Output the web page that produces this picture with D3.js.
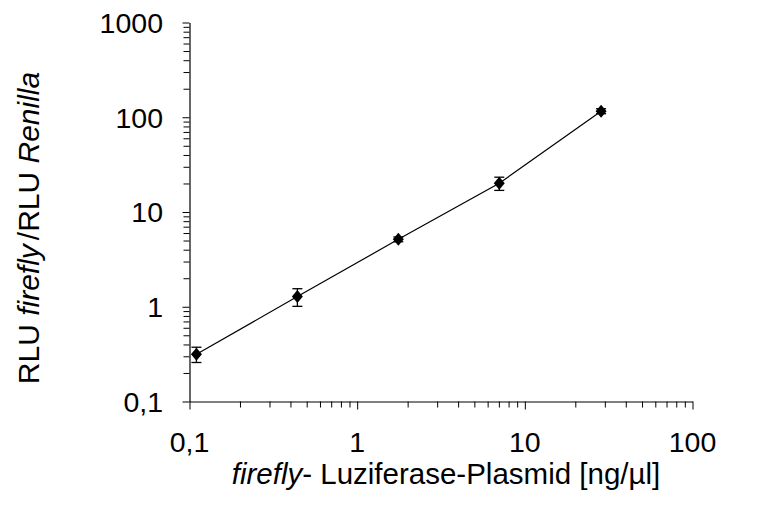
<!DOCTYPE html>
<html>
<head>
<meta charset="utf-8">
<script src="https://cdn.jsdelivr.net/npm/d3@7"></script>
<style>
  html, body { margin: 0; padding: 0; background: #fff; }
  svg { display: block; }
  text { font-family: "Liberation Sans", Arial, Helvetica, sans-serif; fill: #000; }
</style>
</head>
<body>
<svg id="chart" width="757" height="518"></svg>
<script>
// Data
const concentrations = [0.11, 0.44, 1.76, 7.04, 28.5];      // ng/µl
const ratios = [0.316, 1.28, 5.15, 20.1, 116];               // RLU firefly / RLU Renilla
const errors = [0.058, 0.27, 0.3, 3.2, 7];
const xTickValues = [0.1, 1, 10, 100];
const xTickLabels = ["0,1", "1", "10", "100"];
const yTickValues = [0.1, 1, 10, 100, 1000];
const yTickLabels = ["0,1", "1", "10", "100", "1000"];

const svg = d3.select("#chart");
const mLeft = 189.5, mRight = 692.5, mTop = 22.5, mBottom = 401.5;

const x = d3.scaleLog().domain([0.1, 100]).range([mLeft, mRight]);
const y = d3.scaleLog().domain([0.1, 1000]).range([mBottom, mTop]);

function minorTicks(lo, hi) {
  const out = [];
  for (let d = lo; d < hi; d *= 10) for (let k = 2; k <= 9; k++) out.push(+(d * k).toPrecision(3));
  return out;
}

// Y axis
const yAxis = svg.append("g").attr("transform", `translate(${mLeft},0)`);
yAxis.call(d3.axisLeft(y).tickValues(yTickValues).tickFormat("").tickSizeOuter(0).tickSizeInner(7));
yAxis.append("g").call(d3.axisLeft(y).tickValues(minorTicks(0.1, 1000)).tickFormat("").tickSizeOuter(0).tickSizeInner(6))
  .select(".domain").remove();
yAxis.selectAll("path.domain").attr("stroke", "#000").attr("stroke-width", 1.2);
yAxis.selectAll("line").attr("stroke", "#000").attr("stroke-width", 1);

// X axis
const xAxis = svg.append("g").attr("transform", `translate(0,${mBottom})`);
xAxis.call(d3.axisBottom(x).tickValues(xTickValues).tickFormat("").tickSizeOuter(0).tickSizeInner(8));
xAxis.append("g").call(d3.axisBottom(x).tickValues(minorTicks(0.1, 100)).tickFormat("").tickSizeOuter(0).tickSizeInner(6))
  .select(".domain").remove();
xAxis.selectAll("path.domain").attr("stroke", "#000").attr("stroke-width", 1.2);
xAxis.selectAll("line").attr("stroke", "#000").attr("stroke-width", 1);

// Tick labels
svg.append("g").selectAll("text").data(yTickValues).join("text")
  .attr("x", 163).attr("y", d => y(d)).attr("dy", "0.36em")
  .attr("text-anchor", "end").attr("font-size", 28.5)
  .text((d, i) => yTickLabels[i]);
svg.append("g").selectAll("text").data(xTickValues).join("text")
  .attr("x", d => x(d)).attr("y", 452)
  .attr("text-anchor", "middle").attr("font-size", 28.5)
  .text((d, i) => xTickLabels[i]);

// Axis titles
const yTitle = svg.append("text")
  .attr("transform", "translate(39,228) rotate(-90)")
  .attr("text-anchor", "middle").attr("font-size", 30);
yTitle.append("tspan").text("RLU ");
yTitle.append("tspan").attr("font-style", "italic").text("firefly");
yTitle.append("tspan").attr("dx", 4).text("/RLU ");
yTitle.append("tspan").attr("font-style", "italic").text("Renilla");

const xTitle = svg.append("text")
  .attr("x", 446).attr("y", 484)
  .attr("text-anchor", "middle").attr("font-size", 29.5);
xTitle.append("tspan").attr("font-style", "italic").text("firefly");
xTitle.append("tspan").text("- Luziferase-Plasmid [ng/µl]");

// Data
const pts = concentrations.map((c, i) => ({ c, r: ratios[i], e: errors[i] }));

svg.append("path")
  .datum(pts)
  .attr("fill", "none").attr("stroke", "#000").attr("stroke-width", 1.2)
  .attr("d", d3.line().x(d => x(d.c)).y(d => y(d.r)));

const eb = svg.append("g").attr("stroke", "#000").attr("stroke-width", 1.3);
pts.forEach(d => {
  const cx = x(d.c), y1 = y(d.r + d.e), y2 = y(d.r - d.e);
  eb.append("line").attr("x1", cx).attr("x2", cx).attr("y1", y1).attr("y2", y2);
  eb.append("line").attr("x1", cx - 5).attr("x2", cx + 5).attr("y1", y1).attr("y2", y1);
  eb.append("line").attr("x1", cx - 5).attr("x2", cx + 5).attr("y1", y2).attr("y2", y2);
});

svg.append("g").selectAll("path").data(pts).join("path")
  .attr("transform", d => `translate(${x(d.c)},${y(d.r)})`)
  .attr("d", "M0,-6.5L5.5,0L0,6.5L-5.5,0Z")
  .attr("fill", "#000");
</script>
</body>
</html>
